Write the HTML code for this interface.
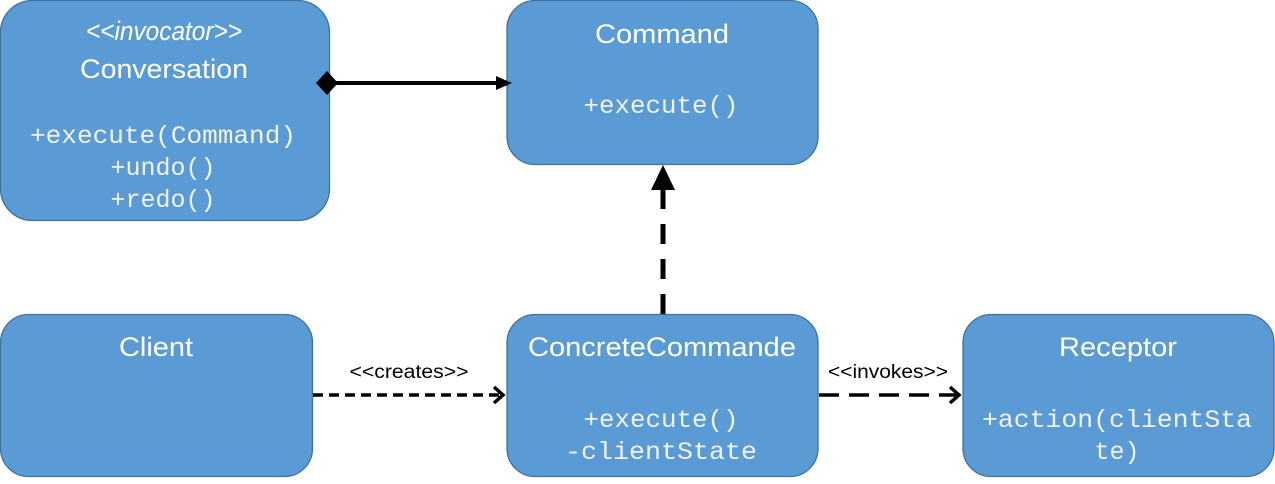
<!DOCTYPE html>
<html><head><meta charset="utf-8"><style>
html,body{margin:0;padding:0;background:#fff;width:1275px;height:484px;overflow:hidden}
.t{font-family:"Liberation Sans",sans-serif;fill:#fff;font-size:27px}
.m{font-family:"Liberation Mono",monospace;fill:#f2f2f2;font-size:25px}
.l{font-family:"Liberation Sans",sans-serif;fill:#000;font-size:19px}
</style></head><body>
<svg width="1275" height="484" xmlns="http://www.w3.org/2000/svg">
<g fill="#5b9bd5" stroke="#41719c" stroke-width="1.3">
<rect x="0.5" y="0.5" width="329" height="220" rx="32"/>
<rect x="507" y="0.5" width="311" height="164" rx="28"/>
<rect x="0.5" y="314.5" width="312" height="162" rx="28"/>
<rect x="507" y="314.5" width="311" height="162" rx="28"/>
<rect x="963" y="314.5" width="311" height="162" rx="28"/>
</g>
<g lengthAdjust="spacingAndGlyphs">
<text class="t" x="164" y="40" text-anchor="middle" font-style="italic" font-size="21" textLength="156" lengthAdjust="spacingAndGlyphs">&lt;&lt;invocator&gt;&gt;</text>
<text class="t" x="164" y="78" text-anchor="middle" textLength="168" lengthAdjust="spacingAndGlyphs">Conversation</text>
<text class="m" x="163" y="143" text-anchor="middle" textLength="266" lengthAdjust="spacingAndGlyphs">+execute(Command)</text>
<text class="m" x="163" y="175" text-anchor="middle" textLength="105" lengthAdjust="spacingAndGlyphs">+undo()</text>
<text class="m" x="163" y="207" text-anchor="middle" textLength="105" lengthAdjust="spacingAndGlyphs">+redo()</text>
<text class="t" x="662" y="43" text-anchor="middle" textLength="134" lengthAdjust="spacingAndGlyphs">Command</text>
<text class="m" x="661" y="113" text-anchor="middle" textLength="155" lengthAdjust="spacingAndGlyphs">+execute()</text>
<text class="t" x="156" y="356" text-anchor="middle" textLength="74" lengthAdjust="spacingAndGlyphs">Client</text>
<text class="t" x="662" y="356" text-anchor="middle" textLength="268" lengthAdjust="spacingAndGlyphs">ConcreteCommande</text>
<text class="m" x="661" y="427" text-anchor="middle" textLength="155" lengthAdjust="spacingAndGlyphs">+execute()</text>
<text class="m" x="661" y="459" text-anchor="middle" textLength="192" lengthAdjust="spacingAndGlyphs">-clientState</text>
<text class="t" x="1118" y="356" text-anchor="middle" textLength="118" lengthAdjust="spacingAndGlyphs">Receptor</text>
<text class="m" x="982" y="427" textLength="270" lengthAdjust="spacingAndGlyphs">+action(clientSta</text>
<text class="m" x="1117" y="459" text-anchor="middle" textLength="45" lengthAdjust="spacingAndGlyphs">te)</text>
</g>
<line x1="336" y1="83" x2="500" y2="83" stroke="#000" stroke-width="4"/>
<polygon points="316,83 327,71 338,83 327,95" fill="#000"/>
<polygon points="496,76 512,83 496,90" fill="#000"/>
<line x1="663" y1="314" x2="663" y2="190" stroke="#000" stroke-width="5" stroke-dasharray="20,15"/>
<polygon points="651,190 663,165 675,190" fill="#000"/>
<line x1="313" y1="395" x2="502" y2="395" stroke="#000" stroke-width="3.5" stroke-dasharray="10,6"/>
<polyline points="494,387 503,395 494,403" fill="none" stroke="#000" stroke-width="3.5"/>
<text class="l" x="409" y="378" text-anchor="middle" textLength="119" lengthAdjust="spacingAndGlyphs">&lt;&lt;creates&gt;&gt;</text>
<line x1="819" y1="395" x2="958" y2="395" stroke="#000" stroke-width="3.5" stroke-dasharray="20,10"/>
<polyline points="950,387 959,395 950,403" fill="none" stroke="#000" stroke-width="3.5"/>
<text class="l" x="888" y="378" text-anchor="middle" textLength="120" lengthAdjust="spacingAndGlyphs">&lt;&lt;invokes&gt;&gt;</text>
</svg>
</body></html>
